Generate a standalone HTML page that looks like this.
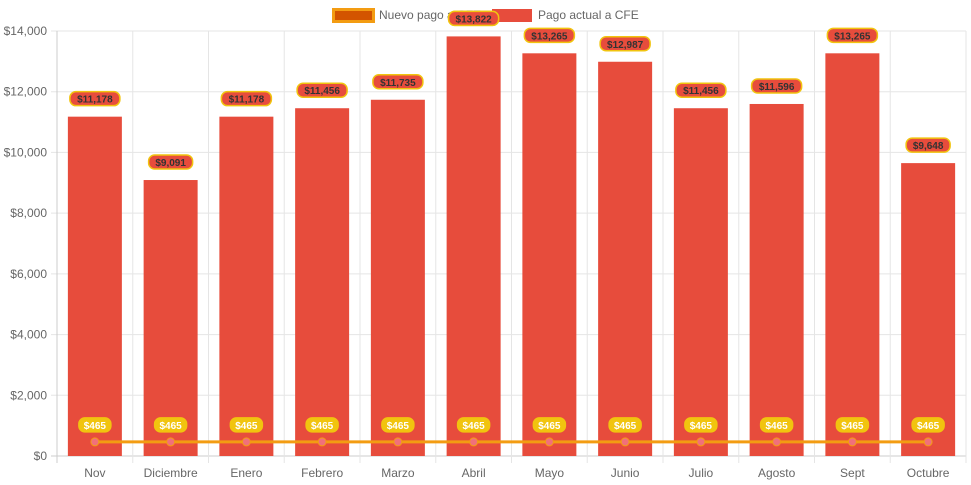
<!DOCTYPE html>
<html><head><meta charset="utf-8"><style>
html,body{margin:0;padding:0;background:#fff;}
svg{display:block;font-family:"Liberation Sans",Arial,sans-serif;}
</style></head><body>
<svg id="chart" width="971" height="485"></svg>
<script>
const categories=["Nov","Diciembre","Enero","Febrero","Marzo","Abril","Mayo","Junio","Julio","Agosto","Sept","Octubre"];
const actualValues=[11178,9091,11178,11456,11735,13822,13265,12987,11456,11596,13265,9648];
const nuevoValues=[465,465,465,465,465,465,465,465,465,465,465,465];
const yTicks=[0,2000,4000,6000,8000,10000,12000,14000];
const NS="http://www.w3.org/2000/svg";
const svg=document.getElementById("chart");
const L=57,R=966,T=31,B=456,yMax=14000;
const cw=(R-L)/categories.length;
const x=i=>L+cw*(i+0.5);
const y=v=>B-v/yMax*(B-T);
function mk(tag,attrs,parent){const e=document.createElementNS(NS,tag);for(const k in attrs)e.setAttribute(k,attrs[k]);(parent||svg).appendChild(e);return e;}
const fmt=v=>"$"+v.toLocaleString("en-US");
// grid
yTicks.forEach(t=>{
 const g=mk("line",{x1:L-6,x2:R,y1:y(t),y2:y(t),stroke:t===0?"#ccc":"#e5e5e5","stroke-width":1});
 
 
 const tx=mk("text",{x:L-10,y:y(t)+4,"text-anchor":"end","font-size":12,fill:"#666"});
 tx.textContent=fmt(t);
 
 
});
for(let i=0;i<=categories.length;i++){
 const gx=L+cw*i;
 const g=mk("line",{x1:gx,x2:gx,y1:T,y2:B+7,stroke:"#e5e5e5","stroke-width":1});
 
 
}
mk("line",{x1:L,x2:L,y1:T,y2:B+7,stroke:"#ccc"});
categories.forEach((c,i)=>{
 const t=mk("text",{x:x(i),y:477,"text-anchor":"middle","font-size":12,fill:"#666"});
 t.textContent=c;
 
 
});
// bars
const bw=54;
actualValues.forEach((v,i)=>{
 const r=mk("rect",{x:x(i)-bw/2,y:y(v),width:bw,height:B-y(v),fill:"#e74c3c"});
 
 
});
// line
const pts=nuevoValues.map((v,i)=>x(i)+","+y(v)).join(" ");
const pl=mk("polyline",{points:pts,fill:"none",stroke:"#f39c12","stroke-width":3});


nuevoValues.forEach((v,i)=>{
 const c=mk("circle",{cx:x(i),cy:y(v),r:4,fill:"#f1707a",stroke:"#f39c12","stroke-width":1});
 
 
});
function pill(cx,cy,text,bg,border,color,name){
 const w=text.length*6+8;
 const r=mk("rect",{x:cx-w/2,y:cy-7,width:w,height:14,rx:6,fill:bg,stroke:border,"stroke-width":1.5});
 
 
 const t=mk("text",{x:cx,y:cy+4,"text-anchor":"middle","font-size":10,"font-weight":"bold",fill:color});
 t.textContent=text;
 
 
}
actualValues.forEach((v,i)=>pill(x(i),y(v)-18,fmt(v),"#e74c3c","#f1c40f","#333","bar-value-label"));
nuevoValues.forEach((v,i)=>pill(x(i),y(v)-17,fmt(v),"#f1c40f","#f1c40f","#fff","line-value-label"));
// legend
const lg=mk("g",{});


const l1=mk("rect",{x:333.5,y:9.5,width:40,height:12,fill:"#d35400",stroke:"#f39c12","stroke-width":3},lg);


const t1=mk("text",{x:379,y:19,"font-size":12,fill:"#666"},lg);
t1.textContent="Nuevo pago a CFE";


const l2=mk("rect",{x:492,y:9,width:40,height:13,fill:"#e74c3c"},lg);


const t2=mk("text",{x:538,y:19,"font-size":12,fill:"#666"},lg);
t2.textContent="Pago actual a CFE";


// redraw Abril label on top of legend
pill(x(5),y(actualValues[5])-18,fmt(actualValues[5]),"#e74c3c","#f1c40f","#333","bar-value-label");
</script>
</body></html>
